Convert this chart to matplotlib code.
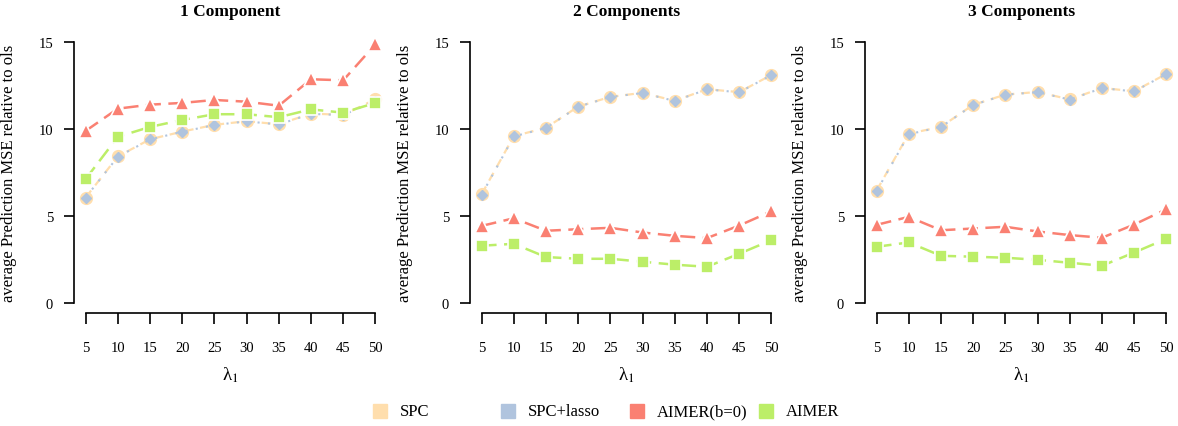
import numpy as np
import matplotlib
matplotlib.use('Agg')
import matplotlib.pyplot as plt

plt.rcParams['font.family'] = ['Liberation Serif', 'DejaVu Serif']
plt.rcParams['mathtext.fontset'] = 'stix'

# data
lam = [5, 10, 15, 20, 25, 30, 35, 40, 45, 50]
titles = ['1 Component', '2 Components', '3 Components']
labels = ['SPC', 'SPC+lasso', 'AIMER(b=0)', 'AIMER']

spc = [
    [6.06, 8.42, 9.41, 9.85, 10.24, 10.45, 10.27, 10.89, 10.81, 11.71],
    [6.25, 9.59, 10.07, 11.29, 11.85, 12.08, 11.62, 12.29, 12.12, 13.11],
    [6.46, 9.73, 10.13, 11.39, 11.98, 12.13, 11.70, 12.36, 12.17, 13.17],
]
spc_lasso = [
    [6.06, 8.40, 9.40, 9.84, 10.23, 10.44, 10.26, 10.87, 10.80, 11.62],
    [6.22, 9.57, 10.06, 11.28, 11.84, 12.07, 11.61, 12.28, 12.11, 13.10],
    [6.43, 9.70, 10.12, 11.38, 11.97, 12.12, 11.69, 12.35, 12.16, 13.16],
]
aimer_b0 = [
    [9.89, 11.17, 11.40, 11.50, 11.67, 11.57, 11.34, 12.86, 12.80, 14.87],
    [4.43, 4.87, 4.15, 4.24, 4.32, 4.05, 3.86, 3.73, 4.45, 5.27],
    [4.49, 4.95, 4.18, 4.28, 4.38, 4.11, 3.90, 3.75, 4.51, 5.39],
]
aimer = [
    [7.12, 9.55, 10.12, 10.52, 10.85, 10.85, 10.68, 11.13, 10.94, 11.50],
    [3.29, 3.40, 2.64, 2.54, 2.54, 2.37, 2.20, 2.08, 2.83, 3.61],
    [3.23, 3.48, 2.71, 2.66, 2.60, 2.48, 2.31, 2.14, 2.90, 3.69],
]

colors = ['#FFDEAD', '#B0C4DE', '#FA8072', '#BCEE68']

fig = plt.figure(figsize=(11.78, 4.27), dpi=100)

lefts = [74, 470, 865]
for k in range(3):
    ax = fig.add_axes([lefts[k] / 1178, 112.6 / 427, 313 / 1178, 281.8 / 427])

    ax.plot(lam, spc[k], color=colors[0], lw=1.6, ls=(0, (4, 3)),
            marker='o', ms=8.5, mec=colors[0], mfc=colors[0], zorder=2)
    ax.plot(lam, spc_lasso[k], color=colors[1], lw=1.5, ls=(0, (1, 4)),
            marker='D', ms=5.5, mec=colors[1], mfc=colors[1], zorder=3)
    ax.plot(lam, aimer_b0[k], color=colors[2], lw=1.8, ls=(0, (6, 3)),
            marker='^', ms=9.5, mec='white', mew=1.2, mfc=colors[2], zorder=4)
    ax.plot(lam, aimer[k], color=colors[3], lw=1.8, ls=(0, (6, 3)),
            marker='s', ms=8, mec='white', mew=1.2, mfc=colors[3], zorder=5)

    ax.set_xlim(3.2, 51.8)
    ax.set_ylim(-0.6, 15.6)
    ax.set_xticks(lam)
    ax.set_yticks([0, 5, 10, 15])

    for s in ['top', 'right']:
        ax.spines[s].set_visible(False)
    ax.spines['left'].set_bounds(0, 15)
    ax.spines['bottom'].set_bounds(5, 50)
    for s in ['left', 'bottom']:
        ax.spines[s].set_linewidth(1.2)

    ax.tick_params(axis='x', direction='out', length=8, width=1.2, pad=12, labelsize=10.5)
    ax.tick_params(axis='y', direction='out', length=7, width=1.2, pad=8, labelsize=10.5)

    ax.set_title(titles[k], fontsize=12.5, fontweight='bold', pad=12)
    ax.set_ylabel('average Prediction MSE relative to ols', fontsize=12)
    ax.yaxis.set_label_coords(-0.182, 0.5)
    ax.set_xlabel(r'λ$_1$', fontsize=13.5)
    ax.xaxis.set_label_coords(0.5, -0.215)
    ax.xaxis.label.set_va('center')

# legend along the bottom, evenly spaced like base R
leg_x = [380, 508, 637, 766]
for i in range(4):
    fig.lines.append(plt.Line2D([leg_x[i] / 1178], [15 / 427], marker='s', ms=9.5,
                                color=colors[i], ls='none', transform=fig.transFigure))
    fig.text((leg_x[i] + 20) / 1178, 15 / 427, labels[i], fontsize=12, va='center', ha='left')

fig.savefig('out.png', dpi=100)
